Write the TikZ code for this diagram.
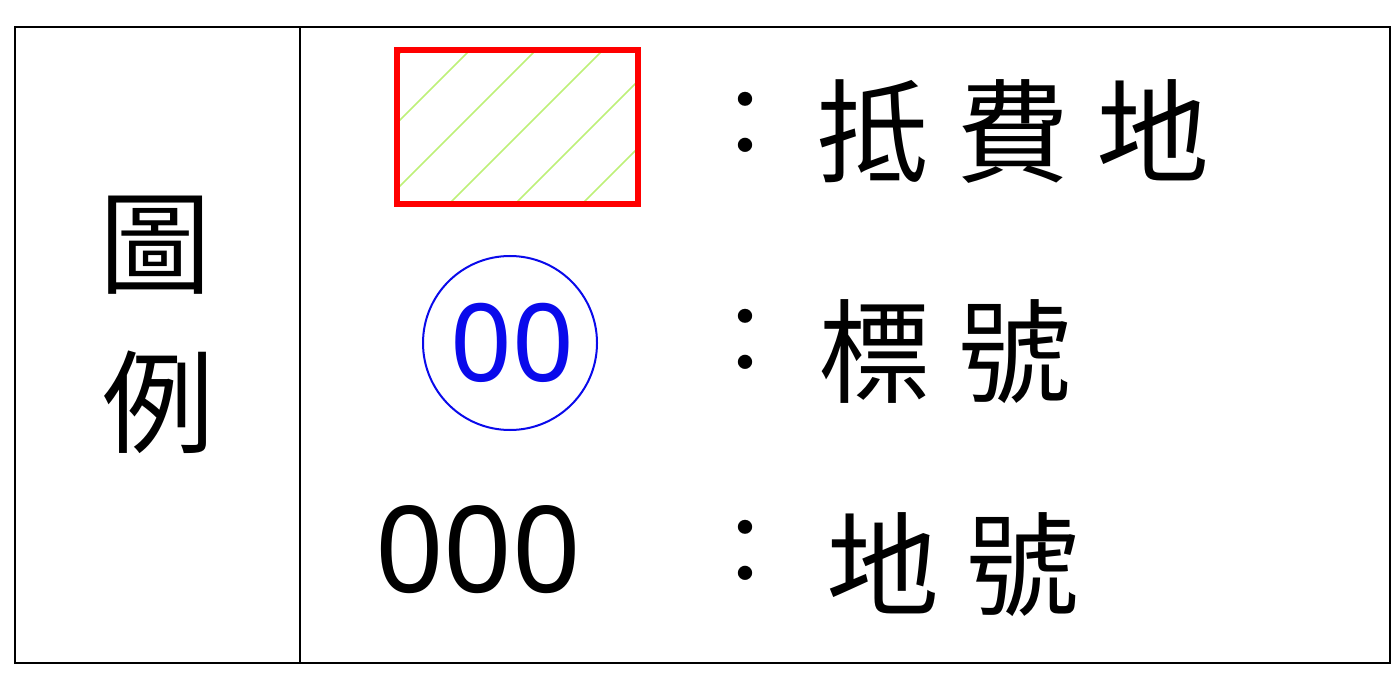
\documentclass[tikz,border=0pt]{standalone}
\usepackage{fontspec}
\newfontfamily\cjk{Noto Sans CJK TC}
\newfontfamily\digits{Noto Sans}
\definecolor{hatchgreen}{RGB}{190,240,120}
\definecolor{lblue}{RGB}{10,10,235}
\begin{document}
\begin{tikzpicture}[x=1pt,y=-1pt,
  frame/.style={line width=2pt,black},
  cjktxt/.style={inner sep=0pt,font=\cjk\fontsize{112}{112}\selectfont},
  labeltxt/.style={inner sep=0pt,anchor=west,font=\cjk\fontsize{113}{113}\selectfont\addfontfeature{LetterSpace=24}},
  colontxt/.style={inner sep=0pt,font=\cjk\fontsize{94}{94}\selectfont},
  numtxt/.style={inner sep=0pt,font=\digits\fontsize{120}{120}\selectfont}]
\useasboundingbox (0,0) rectangle (1400,676);
% outer frame and divider
\draw[frame] (15,27) rectangle (1390,663);
\draw[frame] (300,27) -- (300,663);
% title
\node[cjktxt] (t1) at (155,245) {圖};
\node[cjktxt] (t2) at (158,402) {例};
% hatched rectangle
\begin{scope}
  \clip (397,50) rectangle (638,204);
  \foreach \c in {453,520,586,653,719,786,853}{
    \draw[hatchgreen,line width=1.5pt] (\c-204,204) -- (\c-50,50);
  }
\end{scope}
\draw[red,line width=6pt] (397,50) rectangle (638,204);
% circle with number
\node[draw=lblue,line width=2pt,circle,minimum size=174pt,inner sep=0pt] (circ) at (510,343) {};
\node[numtxt,text=lblue,font=\digits\fontsize{108}{108}\selectfont] (n1) at (512,343) {00};
% plain number
\node[numtxt] (n2) at (478,550) {000};
% colons
\node[colontxt] (c1) at (745,125) {：};
\node[colontxt] (c2) at (745,342) {：};
\node[colontxt] (c3) at (745,553) {：};
% labels
\node[labeltxt] (l1) at (816,132) {抵費地};
\node[labeltxt] (l2) at (818,352) {標號};
\node[labeltxt] (l3) at (826,565) {地號};
\end{tikzpicture}
\end{document}
